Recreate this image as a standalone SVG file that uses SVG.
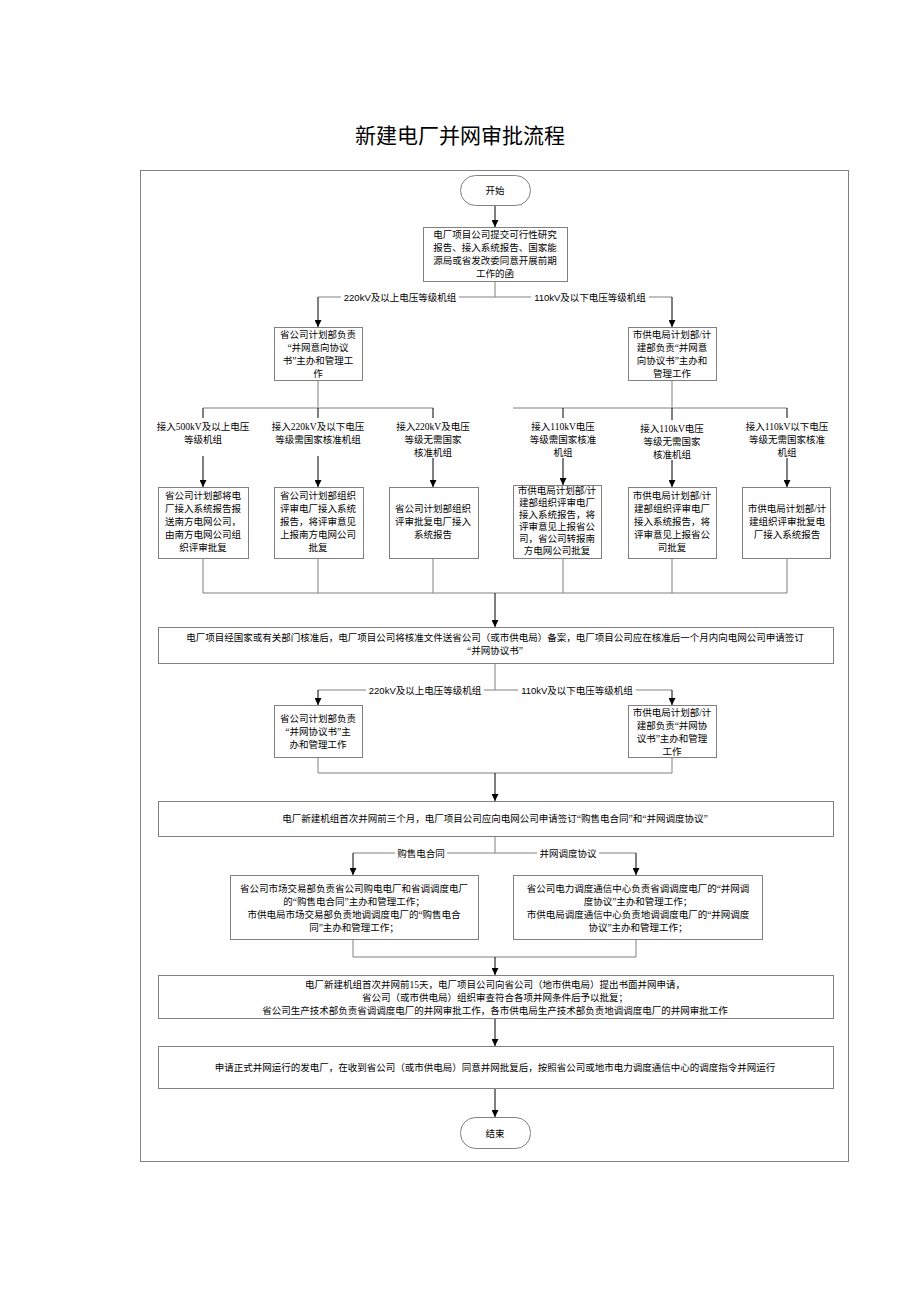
<svg xmlns="http://www.w3.org/2000/svg" width="920" height="1302" viewBox="0 0 920 1302">
<defs>
<marker id="ar" viewBox="0 0 10 10" refX="10" refY="5" markerWidth="7" markerHeight="7" orient="auto" markerUnits="userSpaceOnUse"><path d="M0,0 L10,5 L0,10 z" fill="#000"/></marker>
<style>
.b{fill:#fff;stroke:#808080;stroke-width:1}
.t{font-family:"Liberation Serif","Noto Sans CJK SC",serif;font-size:9.5px;fill:#000;text-anchor:middle}
.l{font-family:"Liberation Sans","Noto Sans CJK SC",sans-serif;font-size:9.5px;fill:#000;text-anchor:middle}
.c{fill:none;stroke:#808080;stroke-width:1}
.a{fill:none;stroke:#000;stroke-width:1;marker-end:url(#ar)}
.lb{fill:#fff}
</style>
</defs>
<rect width="920" height="1302" fill="#fff"/>
<text x="460" y="143" font-family="'Noto Sans CJK SC',sans-serif" font-size="21" text-anchor="middle">新建电厂并网审批流程</text>
<rect x="140.5" y="170.5" width="708" height="991" fill="none" stroke="#808080"/>
<g id="connectors">
<path class="a" d="M495,205 V227"/>
<path class="c" d="M495,281 V297 M318,297 H672"/>
<path class="a" d="M318,297 V327"/><path class="a" d="M672,297 V327"/>
<path class="c" d="M318,380 V408 M203,408 H433 M672,380 V408 M513,408 H787"/>
<path class="a" d="M203,408 V487"/><path class="a" d="M318,408 V487"/><path class="a" d="M433,408 V487"/>
<path class="a" d="M563,408 V485"/><path class="a" d="M672,408 V487"/><path class="a" d="M787,408 V487"/>
<path class="c" d="M203,558 V593 M318,558 V593 M433,558 V593 M563,558 V593 M672,558 V593 M787,558 V593 M203,593 H787"/>
<path class="a" d="M495,593 V627"/>
<path class="c" d="M495,663 V690 M318,690 H672"/>
<path class="a" d="M318,690 V705"/><path class="a" d="M672,690 V705"/>
<path class="c" d="M318,757 V773 M672,757 V773 M318,773 H672"/>
<path class="a" d="M495,773 V801"/>
<path class="c" d="M495,836 V853 M353,853 H636"/>
<path class="a" d="M353,853 V875"/><path class="a" d="M636,853 V875"/>
<path class="c" d="M353,939 V957 M636,939 V957 M353,957 H636"/>
<path class="a" d="M495,957 V975"/>
<path class="a" d="M495,1018 V1046"/>
<path class="a" d="M495,1088 V1117"/>
<rect class="lb" x="341" y="291" width="118" height="12"/><text class="l" x="400" y="301">220kV及以上电压等级机组</text>
<rect class="lb" x="531" y="291" width="118" height="12"/><text class="l" x="590" y="301">110kV及以下电压等级机组</text>
<rect class="lb" x="366" y="684" width="118" height="12"/><text class="l" x="425" y="694">220kV及以上电压等级机组</text>
<rect class="lb" x="518" y="684" width="118" height="12"/><text class="l" x="577" y="694">110kV及以下电压等级机组</text>
<rect class="lb" x="395" y="847" width="52" height="12"/><text class="t" x="421" y="857">购售电合同</text>
<rect class="lb" x="537" y="847" width="62" height="12"/><text class="t" x="568" y="857">并网调度协议</text>
<g class="t">
<rect class="lb" x="160" y="418" width="86" height="38"/><text x="203" y="430">接入500kV及以上电压</text><text x="203" y="443">等级机组</text>
<rect class="lb" x="275" y="418" width="86" height="38"/><text x="318" y="430">接入220kV及以下电压</text><text x="318" y="443">等级需国家核准机组</text>
<rect class="lb" x="392" y="418" width="82" height="40"/><text x="433" y="430">接入220kV及电压</text><text x="433" y="443">等级无需国家</text><text x="433" y="456">核准机组</text>
<rect class="lb" x="522" y="418" width="82" height="40"/><text x="563" y="430">接入110kV电压</text><text x="563" y="443">等级需国家核准</text><text x="563" y="456">机组</text>
<rect class="lb" x="632" y="420" width="80" height="40"/><text x="672" y="432">接入110kV电压</text><text x="672" y="445">等级无需国家</text><text x="672" y="458">核准机组</text>
<rect class="lb" x="744" y="418" width="86" height="40"/><text x="787" y="430">接入110kV以下电压</text><text x="787" y="443">等级无需国家核准</text><text x="787" y="456">机组</text>
</g>
</g>
<g id="start"><rect class="b" x="460.5" y="175.5" width="70" height="30" rx="15"/><text class="t" x="495" y="194">开始</text></g>
<g id="n1"><rect class="b" x="423.5" y="227.5" width="144" height="54"/><text class="t" x="495" y="238">电厂项目公司提交可行性研究</text><text class="t" x="495" y="251">报告、接入系统报告、国家能</text><text class="t" x="495" y="264">源局或省发改委同意开展前期</text><text class="t" x="495" y="277">工作的函</text></g>
<g id="n2"><rect class="b" x="274.5" y="327.5" width="88" height="53"/><text class="t" x="318" y="338">省公司计划部负责</text><text class="t" x="318" y="351">“并网意向协议</text><text class="t" x="318" y="364">书”主办和管理工</text><text class="t" x="318" y="377">作</text></g>
<g id="n3"><rect class="b" x="628.5" y="327.5" width="88" height="53"/><text class="t" x="672" y="338">市供电局计划部/计</text><text class="t" x="672" y="351">建部负责“并网意</text><text class="t" x="672" y="364">向协议书”主办和</text><text class="t" x="672" y="377">管理工作</text></g>
<g id="n4"><rect class="b" x="158.5" y="487.5" width="90" height="71"/><text class="t" x="203" y="499">省公司计划部将电</text><text class="t" x="203" y="512">厂接入系统报告报</text><text class="t" x="203" y="525">送南方电网公司，</text><text class="t" x="203" y="538">由南方电网公司组</text><text class="t" x="203" y="551">织评审批复</text></g>
<g id="n5"><rect class="b" x="274.5" y="487.5" width="89" height="71"/><text class="t" x="318" y="499">省公司计划部组织</text><text class="t" x="318" y="512">评审电厂接入系统</text><text class="t" x="318" y="525">报告，将评审意见</text><text class="t" x="318" y="538">上报南方电网公司</text><text class="t" x="318" y="551">批复</text></g>
<g id="n6"><rect class="b" x="389.5" y="487.5" width="89" height="71"/><text class="t" x="433" y="512">省公司计划部组织</text><text class="t" x="433" y="525">评审批复电厂接入</text><text class="t" x="433" y="538">系统报告</text></g>
<g id="n7"><rect class="b" x="513.5" y="485.5" width="88" height="73"/><text class="t" x="557" y="494">市供电局计划部/计</text><text class="t" x="557" y="506">建部组织评审电厂</text><text class="t" x="557" y="518">接入系统报告，将</text><text class="t" x="557" y="530">评审意见上报省公</text><text class="t" x="557" y="542">司，省公司转报南</text><text class="t" x="557" y="554">方电网公司批复</text></g>
<g id="n8"><rect class="b" x="628.5" y="487.5" width="88" height="71"/><text class="t" x="672" y="499">市供电局计划部/计</text><text class="t" x="672" y="512">建部组织评审电厂</text><text class="t" x="672" y="525">接入系统报告，将</text><text class="t" x="672" y="538">评审意见上报省公</text><text class="t" x="672" y="551">司批复</text></g>
<g id="n9"><rect class="b" x="742.5" y="487.5" width="88" height="71"/><text class="t" x="787" y="512">市供电局计划部/计</text><text class="t" x="787" y="525">建组织评审批复电</text><text class="t" x="787" y="538">厂接入系统报告</text></g>
<g id="n10"><rect class="b" x="158.5" y="627.5" width="675" height="36"/><text class="t" x="495" y="641">电厂项目经国家或有关部门核准后，电厂项目公司将核准文件送省公司（或市供电局）备案，电厂项目公司应在核准后一个月内向电网公司申请签订</text><text class="t" x="495" y="654">“并网协议书”</text></g>
<g id="n11"><rect class="b" x="274.5" y="705.5" width="88" height="52"/><text class="t" x="318" y="722">省公司计划部负责</text><text class="t" x="318" y="735">“并网协议书”主</text><text class="t" x="318" y="748">办和管理工作</text></g>
<g id="n12"><rect class="b" x="628.5" y="705.5" width="88" height="52"/><text class="t" x="672" y="716">市供电局计划部/计</text><text class="t" x="672" y="729">建部负责“并网协</text><text class="t" x="672" y="742">议书”主办和管理</text><text class="t" x="672" y="755">工作</text></g>
<g id="n13"><rect class="b" x="158.5" y="801.5" width="675" height="35"/><text class="t" x="495" y="822">电厂新建机组首次并网前三个月，电厂项目公司应向电网公司申请签订“购售电合同”和“并网调度协议”</text></g>
<g id="n14"><rect class="b" x="230.5" y="875.5" width="248" height="64"/><text class="t" x="354" y="892">省公司市场交易部负责省公司购电电厂和省调调度电厂</text><text class="t" x="354" y="905">的“购售电合同”主办和管理工作；</text><text class="t" x="354" y="918">市供电局市场交易部负责地调调度电厂的“购售电合</text><text class="t" x="354" y="931">同”主办和管理工作；</text></g>
<g id="n15"><rect class="b" x="513.5" y="875.5" width="249" height="64"/><text class="t" x="638" y="892">省公司电力调度通信中心负责省调调度电厂的“并网调</text><text class="t" x="638" y="905">度协议”主办和管理工作；</text><text class="t" x="638" y="918">市供电局调度通信中心负责地调调度电厂的“并网调度</text><text class="t" x="638" y="931">协议”主办和管理工作；</text></g>
<g id="n16"><rect class="b" x="158.5" y="975.5" width="675" height="43"/><text class="t" x="495" y="988">电厂新建机组首次并网前15天，电厂项目公司向省公司（地市供电局）提出书面并网申请，</text><text class="t" x="495" y="1001">省公司（或市供电局）组织审查符合各项并网条件后予以批复；</text><text class="t" x="495" y="1014">省公司生产技术部负责省调调度电厂的并网审批工作，各市供电局生产技术部负责地调调度电厂的并网审批工作</text></g>
<g id="n17"><rect class="b" x="158.5" y="1046.5" width="675" height="42"/><text class="t" x="495" y="1071">申请正式并网运行的发电厂，在收到省公司（或市供电局）同意并网批复后，按照省公司或地市电力调度通信中心的调度指令并网运行</text></g>
<g id="end"><rect class="b" x="460.5" y="1117.5" width="70" height="31" rx="15"/><text class="t" x="495" y="1137">结束</text></g>
</svg>
